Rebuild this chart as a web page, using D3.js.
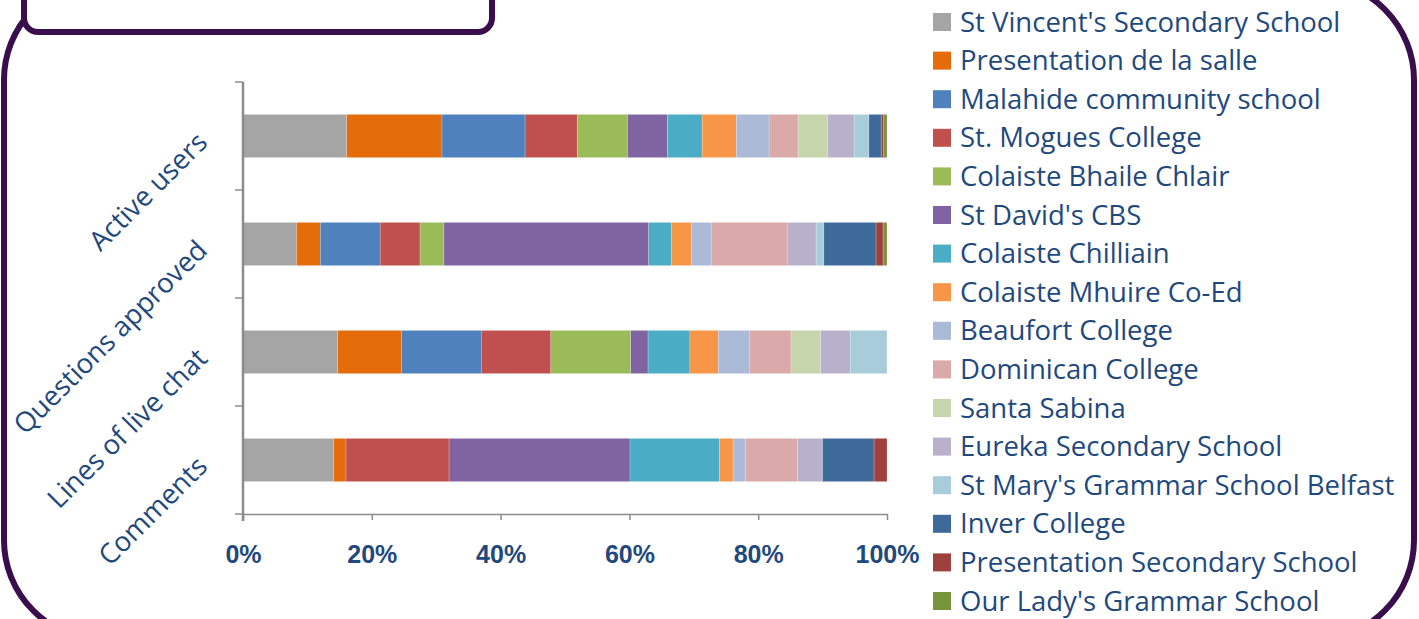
<!DOCTYPE html>
<html>
<head>
<meta charset="utf-8">
<script src="https://cdn.jsdelivr.net/npm/d3@7"></script>
<style>
body { margin: 0; background: #fff; }
svg { display: block; font-family: "Open Sans", "Lato", sans-serif; }
</style>
</head>
<body>
<main></main>
<script>
const categories = ["Active users", "Questions approved", "Lines of live chat", "Comments"];
const schools = [
	"St Vincent's Secondary School", "Presentation de la salle", "Malahide community school",
	"St. Mogues College", "Colaiste Bhaile Chlair", "St David's CBS", "Colaiste Chilliain",
	"Colaiste Mhuire Co-Ed", "Beaufort College", "Dominican College", "Santa Sabina",
	"Eureka Secondary School", "St Mary's Grammar School Belfast", "Inver College",
	"Presentation Secondary School", "Our Lady's Grammar School"
];
const colors = ["#A5A5A5", "#E46C0A", "#4F81BD", "#C0504D", "#9BBB59", "#8064A2", "#4BACC6",
	"#F79646", "#AABAD7", "#D9AAA9", "#C6D5AC", "#B9B0CB", "#A9CCDB", "#3E6A9A", "#9D403E", "#77933C"];

// percent share per school, one array per category (same order as schools)
const activeUsers = [16.1, 14.8, 12.9, 8.1, 7.8, 6.2, 5.4, 5.3, 5.1, 4.5, 4.6, 4.1, 2.3, 1.9, 0.4, 0.5];
const questionsApproved = [8.3, 3.7, 9.3, 6.2, 3.7, 31.8, 3.5, 3.1, 3.1, 11.8, 0, 4.5, 1.2, 8.1, 1.1, 0.6];
const linesOfLiveChat = [14.7, 9.9, 12.4, 10.8, 12.4, 2.7, 6.5, 4.4, 4.9, 6.4, 4.6, 4.6, 5.7, 0, 0, 0];
const comments = [14.1, 1.9, 0, 16.0, 0, 28.1, 13.9, 2.1, 1.9, 8.1, 0, 3.9, 0, 8.0, 2.0, 0];
const xTicks = [0, 20, 40, 60, 80, 100];

const w = 1419, h = 619,
	frameColor = "#3A0E4C",
	textColor = "#1F497D",
	axisColor = "#8C8C8C";

const table = categories.map((c, i) => {
	const vals = [activeUsers, questionsApproved, linesOfLiveChat, comments][i];
	const total = d3.sum(vals);
	const row = {category: c};
	schools.forEach((s, j) => row[s] = vals[j] / total);
	return row;
});

const svg = d3.select("main").append("svg")
	.attr("width", w)
	.attr("height", h);

// outer frame
svg.append("rect")
	.attr("x", 4).attr("y", -20)
	.attr("width", 1410).attr("height", 660)
	.attr("rx", 100)
	.attr("fill", "#fff")
	.attr("stroke", frameColor)
	.attr("stroke-width", 6);

// title box at top left
svg.append("rect")
	.attr("x", 24).attr("y", -30)
	.attr("width", 468).attr("height", 62)
	.attr("rx", 14)
	.attr("fill", "#fff")
	.attr("stroke", frameColor)
	.attr("stroke-width", 6);

const xScale = d3.scaleLinear().domain([0, 1]).range([243, 887]);
const yScale = d3.scaleBand().domain(categories).range([82, 514]).paddingInner(0.6).paddingOuter(0.3);

const stacked = d3.stack().keys(schools)(table);

svg.append("g").selectAll("g")
	.data(stacked)
	.enter()
	.append("g")
	.attr("fill", (d, i) => colors[i])
	.selectAll("rect")
	.data(d => d)
	.enter()
	.append("rect")
	.attr("x", d => xScale(d[0]))
	.attr("y", d => yScale(d.data.category))
	.attr("width", d => xScale(d[1]) - xScale(d[0]))
	.attr("height", yScale.bandwidth())
	.attr("stroke", "rgba(255,255,255,0.35)")
	.attr("stroke-width", 0.6);

// axes
const xAxis = d3.axisBottom(xScale)
	.tickValues(xTicks.map(t => t / 100))
	.tickFormat(d3.format(".0%"))
	.tickSize(6)
	.tickSizeOuter(0);
const gx = svg.append("g")
	.attr("transform", "translate(0,514)")
	.call(xAxis);
gx.select(".domain").attr("stroke", axisColor).attr("stroke-width", 1.5);
gx.selectAll(".tick line").attr("stroke", axisColor).attr("stroke-width", 1.5);
gx.selectAll(".tick text")
	.attr("y", 31)
	.attr("fill", textColor)
	.style("font-size", "25px")
	.style("font-weight", "bold");

const gy = svg.append("g").attr("transform", "translate(243,0)");
gy.append("line")
	.attr("y1", 82).attr("y2", 521)
	.attr("stroke", axisColor).attr("stroke-width", 2.5);
gy.selectAll(".ytick")
	.data(d3.range(categories.length + 1))
	.enter()
	.append("line")
	.attr("x1", -8).attr("x2", 0)
	.attr("y1", i => 82 + i * yScale.step())
	.attr("y2", i => 82 + i * yScale.step())
	.attr("stroke", axisColor).attr("stroke-width", 1.5);

// rotated category labels
svg.append("g").selectAll("text")
	.data(categories)
	.enter()
	.append("text")
	.attr("transform", d => "translate(209," + (yScale(d) + yScale.bandwidth() / 2 + 8) + ") rotate(-45)")
	.attr("text-anchor", "end")
	.attr("fill", textColor)
	.style("font-size", "27.5px")
	.text(d => d);

// legend
const legend = svg.append("g").selectAll("g")
	.data(schools)
	.enter()
	.append("g")
	.attr("transform", (d, i) => "translate(933," + (22 + i * 38.6) + ")");
legend.append("rect")
	.attr("x", 0).attr("y", -9)
	.attr("width", 18).attr("height", 18)
	.attr("fill", (d, i) => colors[i]);
legend.append("text")
	.attr("x", 27).attr("y", 9.5)
	.attr("fill", textColor)
	.style("font-size", "27.5px")
	.text(d => d);
</script>
</body>
</html>
